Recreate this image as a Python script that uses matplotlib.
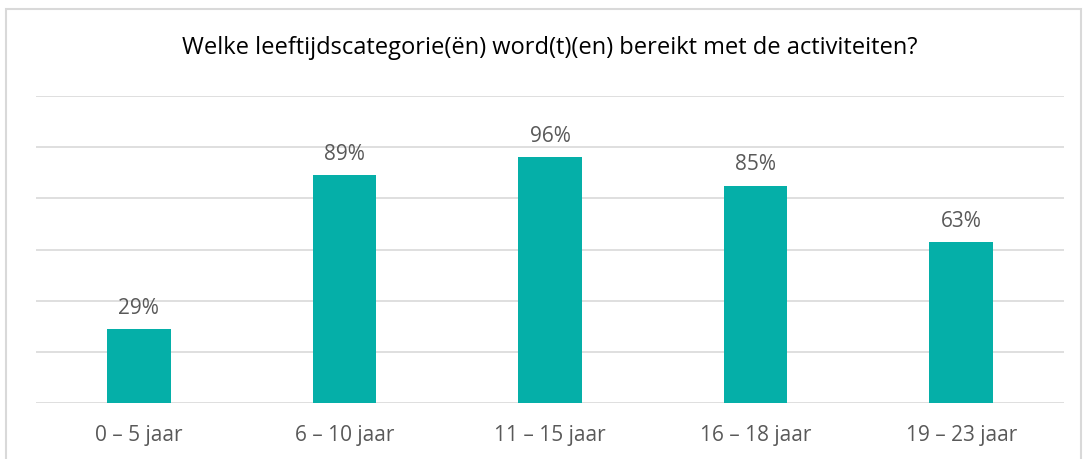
import matplotlib.pyplot as plt
from matplotlib.patches import Rectangle

categories = ["0 – 5 jaar", "6 – 10 jaar", "11 – 15 jaar", "16 – 18 jaar", "19 – 23 jaar"]
values = [29, 89, 96, 85, 63]

BAR_COLOR = "#05AFA8"
GRID_COLOR = "#D9D9D9"
TEXT_COLOR = "#595959"

plt.rcParams['font.family'] = ['Open Sans', 'DejaVu Sans']

fig = plt.figure(figsize=(10.84, 4.59), dpi=100)
fig.patches.append(Rectangle((6 / 1084, -0.05), 1075 / 1084, 1.05 - 9 / 459, transform=fig.transFigure,
                             fill=False, edgecolor=GRID_COLOR, linewidth=1.5))

ax = fig.add_axes([36 / 1084, 56 / 459, 1028 / 1084, 307 / 459])
x = range(len(categories))
ax.bar(x, values, width=0.31, color=BAR_COLOR, zorder=3)
for xi, v in zip(x, values):
    ax.text(xi, v + 4, f"{v}%", ha='center', va='bottom', fontsize=15, color=TEXT_COLOR)

ax.set_xlim(-0.5, len(categories) - 0.5)
ax.set_ylim(0, 120)
ax.set_yticks(range(0, 121, 20))
ax.yaxis.grid(True, color=GRID_COLOR, linewidth=1.2, zorder=0)
ax.tick_params(axis='y', left=False, labelleft=False)
ax.tick_params(axis='x', length=0, pad=16, labelsize=15, labelcolor=TEXT_COLOR)
ax.set_xticks(list(x))
ax.set_xticklabels(categories)
for s in ax.spines.values():
    s.set_visible(False)

fig.text(550 / 1084, 1 - 48 / 459, "Welke leeftijdscategorie(ën) word(t)(en) bereikt met de activiteiten?",
         ha='center', va='center', fontsize=17, color="#000000")

fig.savefig("out.png", dpi=100)
